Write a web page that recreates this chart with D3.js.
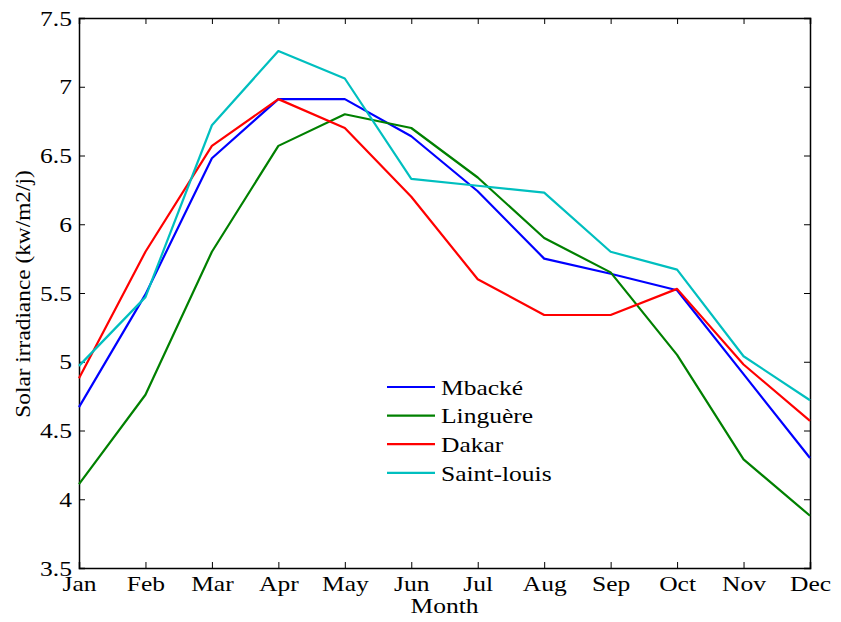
<!DOCTYPE html>
<html>
<head>
<meta charset="utf-8">
<script src="https://cdn.jsdelivr.net/npm/d3@7"></script>
<style>
  html, body { margin: 0; padding: 0; background: #fff; }
  svg { display: block; }
  text { font-family: "Liberation Serif", "Times New Roman", serif; fill: #000; }
</style>
</head>
<body>
<svg id="chart" width="841" height="622"></svg>
<script>
// Monthly mean solar irradiance (kW/m2/day) for four Senegalese stations
const months = ["Jan","Feb","Mar","Apr","May","Jun","Jul","Aug","Sep","Oct","Nov","Dec"];
const mbacke    = [4.67, 5.49, 6.48, 6.91, 6.91, 6.64, 6.24, 5.75, 5.64, 5.52, 4.91, 4.30];
const linguere  = [4.11, 4.76, 5.80, 6.57, 6.80, 6.70, 6.34, 5.90, 5.65, 5.05, 4.29, 3.88];
const dakar     = [4.88, 5.80, 6.57, 6.91, 6.70, 6.20, 5.60, 5.34, 5.34, 5.53, 4.98, 4.57];
const saintLouis= [4.97, 5.47, 6.72, 7.26, 7.06, 6.33, 6.28, 6.23, 5.80, 5.67, 5.04, 4.72];
const yTicks = [3.5, 4, 4.5, 5, 5.5, 6, 6.5, 7, 7.5];

const series = [
  { name: "Mbacké",      values: mbacke,     color: "#0000ff" },
  { name: "Linguère",    values: linguere,   color: "#008000" },
  { name: "Dakar",       values: dakar,      color: "#ff0000" },
  { name: "Saint-louis", values: saintLouis, color: "#00bfbf" }
];

const margin = { left: 79, right: 31, top: 18, bottom: 54 };
const W = 841, H = 622;
const FONT = "22px";
const svg = d3.select("#chart");

const x = d3.scalePoint().domain(months).range([margin.left, W - margin.right]);
const y = d3.scaleLinear().domain([3.5, 7.5]).range([H - margin.bottom, margin.top]);

const fmt = d => (Number.isInteger(d) ? d3.format("d")(d) : d3.format(".1f")(d));
const tickLen = 6;

// bottom axis with labels, inward ticks
const gx = svg.append("g").attr("transform", `translate(0,${y(3.5)})`)
  .call(d3.axisBottom(x).tickSize(-tickLen).tickPadding(12));
// top axis, ticks only
const gxt = svg.append("g").attr("transform", `translate(0,${y(7.5)})`)
  .call(d3.axisTop(x).tickSize(-tickLen).tickFormat(""));
// left axis with labels
const gy = svg.append("g").attr("transform", `translate(${x("Jan")},0)`)
  .call(d3.axisLeft(y).tickValues(yTicks).tickSize(-tickLen).tickPadding(7).tickFormat(fmt));
// right axis, ticks only
const gyr = svg.append("g").attr("transform", `translate(${x("Dec")},0)`)
  .call(d3.axisRight(y).tickValues(yTicks).tickSize(-tickLen).tickFormat(""));

[gx, gxt, gy, gyr].forEach(g => {
  g.select(".domain").attr("stroke", "#000").attr("stroke-width", 1.5);
  g.selectAll(".tick line").attr("stroke", "#000").attr("stroke-width", 1);
  g.selectAll("text").style("font-size", FONT).attr("fill", "#000")
    .style("font-family", "'Liberation Serif', 'Times New Roman', serif");
});
gx.selectAll(".tick text").attr("y", 23).attr("dy", 0);
// hide the ticks that sit on the corners of the box
gx.selectAll(".tick line").filter(d => d === "Jan" || d === "Dec").remove();
gxt.selectAll(".tick line").filter(d => d === "Jan" || d === "Dec").remove();
gy.selectAll(".tick line").filter(d => d === 3.5 || d === 7.5).remove();
gyr.selectAll(".tick line").filter(d => d === 3.5 || d === 7.5).remove();

// series lines
const line = d3.line().x((d, i) => x(months[i])).y(d => y(d));
svg.append("g").selectAll("path").data(series).join("path")
  .attr("d", d => line(d.values))
  .attr("fill", "none")
  .attr("stroke", d => d.color)
  .attr("stroke-width", 2.2)
  .attr("stroke-linejoin", "round");

// axis titles
svg.append("text")
  .attr("x", (x("Jan") + x("Dec")) / 2).attr("y", 613)
  .attr("text-anchor", "middle").style("font-size", FONT)
  .text("Month");
svg.append("text").attr("class", "vertical")
  .attr("transform", `translate(30,294) rotate(-90)`)
  .attr("text-anchor", "middle").style("font-size", FONT)
  .text("Solar irradiance (kw/m2/j)");

// legend
const legend = svg.append("g").attr("transform", "translate(387,387)");
const rowH = 28.6;
const items = legend.selectAll("g").data(series).join("g")
  .attr("transform", (d, i) => `translate(0,${i * rowH})`);
items.append("line").attr("x1", 0).attr("x2", 48).attr("y1", 0).attr("y2", 0)
  .attr("stroke", d => d.color).attr("stroke-width", 2.2);
items.append("text").attr("x", 54).attr("y", 0).attr("dy", "0.35em")
  .style("font-size", FONT).text(d => d.name);

// widen the serif glyphs for a broader typeface look (less along the vertical title)
svg.selectAll("text").each(function () {
  if (!this.textContent) return;
  const k = this.classList.contains("vertical") ? 1.06 : 1.16;
  const w = this.getComputedTextLength();
  d3.select(this).attr("textLength", w * k).attr("lengthAdjust", "spacingAndGlyphs");
});
</script>
</body>
</html>
